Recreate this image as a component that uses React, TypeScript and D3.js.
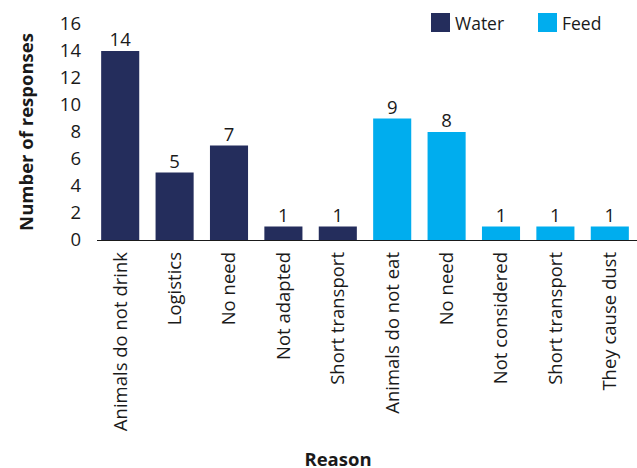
import React from "react";
import * as d3 from "d3";

const categories = [
  "Animals do not drink",
  "Logistics",
  "No need (water)",
  "Not adapted",
  "Short transport (water)",
  "Animals do not eat",
  "No need (feed)",
  "Not considered",
  "Short transport (feed)",
  "They cause dust",
];
const labels = [
  "Animals do not drink",
  "Logistics",
  "No need",
  "Not adapted",
  "Short transport",
  "Animals do not eat",
  "No need",
  "Not considered",
  "Short transport",
  "They cause dust",
];
const values = [14, 5, 7, 1, 1, 9, 8, 1, 1, 1];
const groups = ["Water", "Water", "Water", "Water", "Water", "Feed", "Feed", "Feed", "Feed", "Feed"];
const seriesNames = ["Water", "Feed"];
const yTicks = [0, 2, 4, 6, 8, 10, 12, 14, 16];

const W = 637;
const H = 468;
const FONT = "'Open Sans', 'Noto Sans', sans-serif";
const FS = 18.5;

export default function App() {
  const x = d3.scaleBand<string>().domain(categories).range([93, 637]).paddingInner(0.3).paddingOuter(0.15);
  const y = d3.scaleLinear().domain([0, 16]).range([240, 24]);
  const color = d3.scaleOrdinal<string, string>().domain(seriesNames).range(["#242d5c", "#00adee"]);

  return (
    <svg
      width={W}
      height={H}
      style={{ position: "absolute", left: 0, top: 0, background: "#fff" }}
      fontFamily={FONT}
    >
      {yTicks.map((t) => (
        <text key={t} x={81} y={y(t)} dy="0.35em" textAnchor="end" fontSize={FS} fill="#1a1a1a">
          {t}
        </text>
      ))}
      {categories.map((c, i) => (
        <g key={c}>
          <rect
            x={x(c)}
            y={y(values[i])}
            width={x.bandwidth()}
            height={y(0) - y(values[i])}
            fill={color(groups[i])}
          />
          <text
            x={(x(c) ?? 0) + x.bandwidth() / 2}
            y={y(values[i]) - 5}
            textAnchor="middle"
            fontSize={FS}
            fill="#1a1a1a"
          >
            {values[i]}
          </text>
          <text
            transform={`translate(${(x(c) ?? 0) + x.bandwidth() / 2},${y(0) + 12}) rotate(-90)`}
            dy="0.35em"
            textAnchor="end"
            fontSize={FS}
            fill="#1a1a1a"
          >
            {labels[i]}
          </text>
        </g>
      ))}
      <line x1={97} x2={637} y1={y(0) + 0.5} y2={y(0) + 0.5} stroke="#1a1a1a" strokeWidth={1} />
      <text
        transform={`translate(27,${(y(0) + y(16)) / 2}) rotate(-90)`}
        dy="0.35em"
        textAnchor="middle"
        fontSize={FS}
        fontWeight="bold"
        fill="#1a1a1a"
      >
        Number of responses
      </text>
      <text x={338} y={466} textAnchor="middle" fontSize={FS} fontWeight="bold" fill="#1a1a1a">
        Reason
      </text>
      {seriesNames.map((s, i) => {
        const lx = [431, 538][i];
        return (
          <g key={s}>
            <rect x={lx} y={13} width={19} height={19} fill={color(s)} />
            <text x={lx + 24} y={30} fontSize={17.5} fill="#1a1a1a">
              {s}
            </text>
          </g>
        );
      })}
    </svg>
  );
}
